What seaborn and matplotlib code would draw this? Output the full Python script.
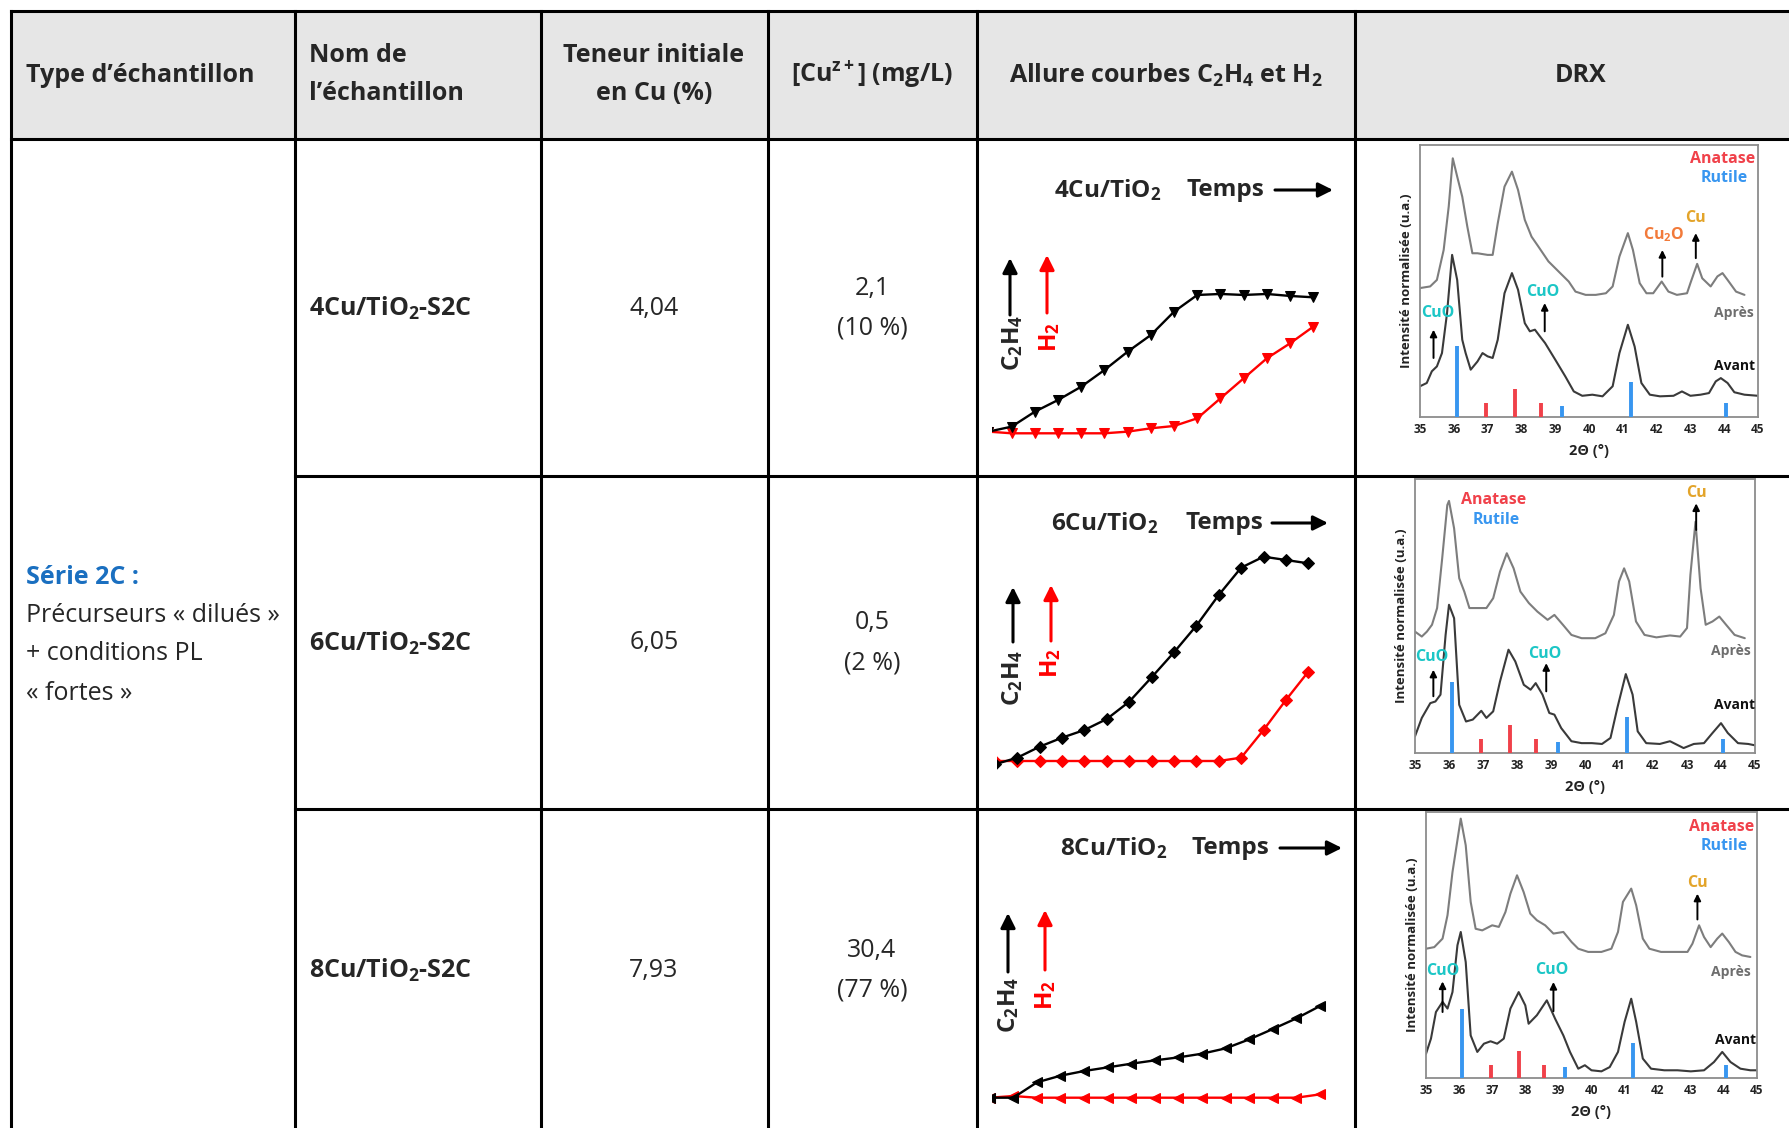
import matplotlib
matplotlib.use('Agg')
import numpy as np
import pandas as pd
import matplotlib.pyplot as plt
import seaborn as sns
from matplotlib.patches import Rectangle

sns.set_theme(style='white')
plt.rcParams['font.family'] = ['Open Sans', 'DejaVu Sans']
plt.rcParams['mathtext.fontset'] = 'custom'
plt.rcParams['mathtext.rm'] = 'Open Sans'
plt.rcParams['mathtext.bf'] = 'Open Sans:bold'
plt.rcParams['mathtext.it'] = 'Open Sans:italic'

# ---------------- table content ----------------
sample_names = ['4Cu/TiO$_\\mathbf{2}$-S2C', '6Cu/TiO$_\\mathbf{2}$-S2C', '8Cu/TiO$_\\mathbf{2}$-S2C']
panel_titles = ['4Cu/TiO$_\\mathbf{2}$', '6Cu/TiO$_\\mathbf{2}$', '8Cu/TiO$_\\mathbf{2}$']
cu_content = ['4,04', '6,05', '7,93']
cu_release = ['2,1', '0,5', '30,4']
cu_release_pct = ['(10 %)', '(2 %)', '(77 %)']

# ---------------- C2H4 / H2 curves (arbitrary units) ----------------
time_idx = list(range(15))
c2h4_4cu = [0.05, 0.2, 0.65, 1.0, 1.4, 1.9, 2.45, 2.95, 3.65, 4.15, 4.18, 4.15, 4.18, 4.12, 4.08]
h2_4cu = [0.05, 0, 0, 0, 0, 0, 0.05, 0.15, 0.22, 0.45, 1.05, 1.65, 2.25, 2.7, 3.2]
c2h4_6cu = [-0.1, 0.1, 0.43, 0.7, 0.93, 1.26, 1.78, 2.51, 3.26, 4.06, 4.98, 5.8, 6.13, 6.03, 5.93]
h2_6cu = [0, 0, 0, 0, 0, 0, 0, 0, 0, 0, 0, 0.1, 0.93, 1.83, 2.68]
c2h4_8cu = [0, 0, 0.46, 0.66, 0.8, 0.91, 1.02, 1.12, 1.21, 1.32, 1.48, 1.75, 2.06, 2.38, 2.75]
h2_8cu = [0, 0.05, 0, 0, 0, 0, 0, 0, 0, 0, 0, 0, 0, 0, 0.1]

# ---------------- XRD patterns (2theta in deg, normalised intensity) ----------------
tt_apres_4cu = [35.0, 35.3, 35.5, 35.7, 35.85, 35.97, 36.1, 36.25, 36.4, 36.55, 36.7, 37.0, 37.15, 37.3, 37.5,
                37.72, 37.9, 38.1, 38.3, 38.5, 38.8, 39.1, 39.4, 39.6, 39.9, 40.2, 40.5, 40.7, 40.9, 41.15,
                41.3, 41.5, 41.7, 41.9, 42.15, 42.35, 42.6, 42.9, 43.0, 43.2, 43.35, 43.6, 43.8, 43.95, 44.1,
                44.35, 44.6]
i_apres_4cu = [47.4, 48.0, 50.4, 61.4, 77.4, 95.1, 88.4, 81.0, 70.0, 60.2, 60.2, 59.6, 59.6, 71.2, 84.7,
               90.2, 83.5, 72.5, 66.3, 62.7, 57.2, 53.5, 49.8, 46.1, 44.9, 44.9, 45.5, 48.0, 59.0, 67.6,
               61.4, 49.2, 45.5, 45.5, 49.8, 46.1, 44.9, 45.5, 49.2, 56.3, 51.0, 48.0, 51.7, 52.9, 50.4,
               46.1, 44.9]
tt_avant_4cu = [35.0, 35.2, 35.35, 35.5, 35.65, 35.8, 35.95, 36.1, 36.25, 36.35, 36.5, 36.7, 36.85, 37.0, 37.15,
                37.3, 37.5, 37.72, 37.9, 38.1, 38.25, 38.4, 38.55, 38.7, 39.0, 39.3, 39.55, 39.8, 40.1, 40.4,
                40.7, 40.9, 41.15, 41.35, 41.55, 41.8, 42.1, 42.5, 42.75, 43.0, 43.3, 43.55, 43.75, 43.9, 44.1,
                44.3, 44.6, 45.0]
i_avant_4cu = [11.3, 12.5, 16.8, 18.6, 23.5, 38.2, 59.6, 50.4, 28.4, 23.5, 17.4, 20.4, 23.5, 22.3, 21.7,
               28.4, 45.5, 52.9, 46.8, 34.5, 31.5, 32.1, 29.6, 27.2, 21.1, 14.9, 9.4, 7.8, 8.2, 7.6,
               11.3, 23.5, 33.9, 25.9, 12.5, 8.2, 7.6, 7.8, 9.4, 7.8, 8.2, 8.8, 13.1, 14.3, 12.5,
               9.1, 8.2, 7.8]

tt_apres_6cu = [35.0, 35.2, 35.35, 35.5, 35.65, 35.8, 35.95, 36.0, 36.15, 36.3, 36.45, 36.6, 36.8, 37.1, 37.3,
                37.5, 37.7, 37.9, 38.1, 38.35, 38.6, 38.9, 39.1, 39.35, 39.6, 39.9, 40.3, 40.6, 40.85, 41.0,
                41.15, 41.3, 41.5, 41.75, 42.1, 42.5, 42.8, 43.0, 43.1, 43.25, 43.4, 43.55, 43.75, 43.95, 44.15,
                44.4, 44.7]
i_apres_6cu = [44.3, 42.5, 44.3, 46.8, 52.9, 71.1, 90.5, 92.0, 82.0, 63.8, 58.9, 52.9, 52.9, 52.9, 56.5,
               66.2, 72.9, 67.4, 58.9, 54.7, 51.6, 48.6, 50.4, 46.8, 43.1, 41.9, 41.9, 43.7, 50.4, 62.6,
               67.4, 62.6, 48.0, 43.1, 42.2, 42.9, 42.5, 45.6, 65.0, 84.4, 60.1, 46.8, 48.0, 49.8, 46.8,
               43.1, 41.9]
tt_avant_6cu = [35.0, 35.2, 35.45, 35.6, 35.75, 35.9, 36.0, 36.15, 36.3, 36.5, 36.7, 36.95, 37.1, 37.3, 37.5,
                37.75, 37.95, 38.2, 38.4, 38.55, 38.75, 38.95, 39.1, 39.3, 39.6, 39.9, 40.2, 40.5, 40.75, 40.95,
                41.2, 41.4, 41.55, 41.8, 42.2, 42.5, 42.9, 43.2, 43.5, 43.75, 44.0, 44.2, 44.5, 44.8, 45.0]
i_avant_6cu = [6.1, 12.8, 18.2, 18.8, 21.3, 43.1, 54.1, 49.2, 17.6, 11.5, 12.2, 15.4, 12.8, 15.2, 26.1,
               37.7, 33.4, 24.9, 23.1, 25.5, 21.3, 14.6, 14.0, 9.1, 4.3, 3.6, 3.6, 3.3, 5.5, 16.4,
               28.8, 21.3, 7.9, 3.6, 3.3, 4.3, 1.8, 3.3, 3.6, 7.3, 10.9, 7.3, 3.6, 3.3, 2.8]

tt_apres_8cu = [35.0, 35.25, 35.5, 35.65, 35.8, 36.05, 36.2, 36.35, 36.5, 36.7, 37.0, 37.2, 37.4, 37.55, 37.75,
                37.95, 38.15, 38.35, 38.6, 38.85, 39.15, 39.4, 39.6, 39.9, 40.3, 40.6, 40.8, 40.95, 41.2, 41.35,
                41.55, 41.75, 42.1, 42.5, 42.9, 43.05, 43.25, 43.4, 43.6, 43.8, 43.95, 44.15, 44.35, 44.55, 44.8]
i_apres_8cu = [48.6, 49.2, 52.4, 61.2, 77.4, 97.5, 87.5, 66.2, 56.1, 55.5, 57.4, 56.8, 62.4, 69.3, 76.2,
               69.9, 61.8, 59.3, 57.4, 54.3, 54.9, 51.1, 48.6, 47.4, 47.4, 48.6, 54.9, 66.2, 71.2, 64.9,
               52.4, 48.6, 47.4, 47.4, 47.4, 50.5, 57.4, 53.0, 49.2, 52.4, 54.3, 51.1, 47.4, 46.1, 45.5]
tt_avant_8cu = [35.0, 35.15, 35.3, 35.5, 35.65, 35.8, 35.95, 36.05, 36.2, 36.35, 36.55, 36.75, 36.95, 37.15, 37.35,
                37.55, 37.8, 38.0, 38.1, 38.35, 38.65, 38.9, 39.15, 39.35, 39.6, 39.8, 40.0, 40.3, 40.55, 40.8,
                41.0, 41.2, 41.35, 41.55, 41.8, 42.2, 42.6, 43.0, 43.4, 43.7, 43.95, 44.2, 44.5, 44.8, 45.0]
i_avant_8cu = [9.1, 14.8, 24.8, 28.6, 26.1, 32.3, 49.9, 54.9, 43.6, 16.0, 9.8, 12.9, 13.8, 12.9, 14.8,
               26.1, 32.3, 27.3, 20.4, 23.6, 29.2, 22.3, 16.0, 9.8, 3.5, 4.8, 2.9, 2.5, 4.1, 9.8,
               21.1, 29.8, 21.1, 7.3, 3.5, 2.9, 2.9, 2.5, 2.9, 6.0, 9.8, 6.0, 3.5, 2.9, 2.9]

anatase_tt = [36.95, 37.8, 38.57]
anatase_int = [5.0, 10.3, 5.0]
rutile_tt = [36.1, 39.2, 41.24, 44.06]
rutile_int = [26.0, 4.0, 13.0, 5.0]

# ---------------- figure ----------------
W, H = 1790, 1128
fig = plt.figure(figsize=(W / 100, H / 100), dpi=100)


def px_axes(x0, y0, x1, y1):
    return fig.add_axes([x0 / W, 1 - y1 / H, (x1 - x0) / W, (y1 - y0) / H])


tab = px_axes(0, 0, W, H)
tab.set_xlim(0, W)
tab.set_ylim(H, 0)
tab.axis('off')

# header background
tab.add_patch(Rectangle((11, 11), W - 11, 128, facecolor='#e6e6e6', edgecolor='none', zorder=0))

LW = 2.2
line_kw = dict(color='black', lw=LW, solid_capstyle='projecting', zorder=2)
tab.plot([11, W], [11, 11], **line_kw)
tab.plot([11, W], [139, 139], **line_kw)
tab.plot([295, W], [476, 476], **line_kw)
tab.plot([295, W], [809, 809], **line_kw)
for xc in [11, 295, 541, 768, 977, 1355]:
    tab.plot([xc, xc], [11, H + 5], **line_kw)

HFS = 18
BFS = 18
# header texts
tab.text(26, 75, 'Type d’échantillon', fontsize=HFS, fontweight='bold', ha='left', va='center')
tab.text(309, 55, 'Nom de', fontsize=HFS, fontweight='bold', ha='left', va='center')
tab.text(309, 94, 'l’échantillon', fontsize=HFS, fontweight='bold', ha='left', va='center')
tab.text(654, 55, 'Teneur initiale', fontsize=HFS, fontweight='bold', ha='center', va='center')
tab.text(654, 94, 'en Cu (%)', fontsize=HFS, fontweight='bold', ha='center', va='center')
tab.text(872, 75, '[Cu$^{\\mathbf{z+}}$] (mg/L)', fontsize=HFS, fontweight='bold', ha='center', va='center')
tab.text(1166, 75, 'Allure courbes C$_\\mathbf{2}$H$_\\mathbf{4}$ et H$_\\mathbf{2}$', fontsize=HFS,
         fontweight='bold', ha='center', va='center')
tab.text(1581, 75, 'DRX', fontsize=HFS, fontweight='bold', ha='center', va='center')

# first column (merged)
tab.text(26, 577, 'Série 2C :', fontsize=BFS, fontweight='bold', color='#1a6fc0', ha='left', va='center')
tab.text(26, 615, 'Précurseurs « dilués »', fontsize=BFS, ha='left', va='center')
tab.text(26, 654, '+ conditions PL', fontsize=BFS, ha='left', va='center')
tab.text(26, 693, '« fortes »', fontsize=BFS, ha='left', va='center')

row_centers = [308, 643, 970]
for k, yc in enumerate(row_centers):
    tab.text(309, yc, sample_names[k], fontsize=BFS, fontweight='bold', ha='left', va='center')
    tab.text(654, yc, cu_content[k], fontsize=BFS, ha='center', va='center')
    tab.text(872, yc - 20, cu_release[k], fontsize=BFS, ha='center', va='center')
    tab.text(872, yc + 20, cu_release_pct[k], fontsize=BFS, ha='center', va='center')


# ---------------- kinetics panels ----------------
def kinetics_panel(xl, xr, yt, yb, x_t1, x_t14, y_zero, c2h4, h2, marker, ms):
    ax = px_axes(xl, yt, xr, yb)
    dt = (x_t14 - x_t1) / 13.0
    x0p = x_t1 - dt
    u = 100 / 3.0
    sns.lineplot(x=time_idx, y=h2, color='#ff0000', marker=marker, markersize=ms,
                 markeredgecolor='#ff0000', markerfacecolor='#ff0000', lw=1.7, ax=ax)
    sns.lineplot(x=time_idx, y=c2h4, color='black', marker=marker, markersize=ms,
                 markeredgecolor='black', markerfacecolor='black', lw=1.7, ax=ax)
    ax.set_xlim((xl - x0p) / dt, (xr - x0p) / dt)
    ax.set_ylim((y_zero - yb) / u, (y_zero - yt) / u)
    ax.axis('off')
    return ax


kinetics_panel(992, 1352, 145, 474, 1011.7, 1313.3, 433.3, c2h4_4cu, h2_4cu, 'v', 7)
kinetics_panel(997, 1352, 478, 806, 1017.3, 1308.3, 761.0, c2h4_6cu, h2_6cu, 'D', 6)
kinetics_panel(992, 1352, 811, 1126, 1013.3, 1320.0, 1097.7, c2h4_8cu, h2_8cu, '<', 7)

TFS = 17.5
arrow_black = dict(arrowstyle='-|>', lw=2.2, color='black', mutation_scale=22, shrinkA=0, shrinkB=0)
arrow_red = dict(arrowstyle='-|>', lw=2.2, color='#ff0000', mutation_scale=22, shrinkA=0, shrinkB=0)
panel_layout = [
    # title x, temps x, arrow x0, x1, y, black arrow x, y0, y1, red arrow x, y0, y1, c2h4 xy, h2 xy
    (1108, 1225, 1275, 1333, 190, 1010, 315, 258, 1047, 313, 255, (1013, 343), (1050, 337)),
    (1105, 1224, 1272, 1328, 523, 1013, 642, 587, 1051, 641, 585, (1013, 678), (1051, 663)),
    (1114, 1230, 1280, 1342, 848, 1008, 972, 913, 1045, 970, 910, (1009, 1005), (1046, 995)),
]
for k, (tx, tpx, ax0, ax1, ty, bx, by0, by1, rx, ry0, ry1, cxy, hxy) in enumerate(panel_layout):
    tab.text(tx, ty, panel_titles[k], fontsize=TFS, fontweight='bold', ha='center', va='center')
    tab.text(tpx, ty, 'Temps', fontsize=TFS, fontweight='bold', ha='center', va='center')
    tab.annotate('', xy=(ax1, ty), xytext=(ax0, ty), arrowprops=arrow_black)
    tab.annotate('', xy=(bx, by1), xytext=(bx, by0), arrowprops=arrow_black)
    tab.annotate('', xy=(rx, ry1), xytext=(rx, ry0), arrowprops=arrow_red)
    tab.text(cxy[0], cxy[1], 'C$_\\mathbf{2}$H$_\\mathbf{4}$', fontsize=TFS, fontweight='bold',
             rotation=90, ha='center', va='center')
    tab.text(hxy[0], hxy[1], 'H$_\\mathbf{2}$', fontsize=TFS, fontweight='bold', color='#ff0000',
             rotation=90, ha='center', va='center')

# ---------------- XRD panels ----------------
C_ANA = '#f0414a'
C_RUT = '#3896f0'
C_CUO = '#1cc6c6'
C_CU2O = '#f27a3a'
C_CU = '#e3a42a'


def xrd_panel(x0, y0, x1, y1, tt_ap, i_ap, tt_av, i_av):
    ax = px_axes(x0, y0, x1, y1)
    df_ap = pd.DataFrame({'tt': tt_ap, 'I': i_ap})
    df_av = pd.DataFrame({'tt': tt_av, 'I': i_av})
    sns.lineplot(data=df_ap, x='tt', y='I', color='#7d7d7d', lw=1.5, ax=ax, sort=False)
    sns.lineplot(data=df_av, x='tt', y='I', color='#3a3a3a', lw=1.5, ax=ax, sort=False)
    ax.vlines(anatase_tt, 0, anatase_int, color=C_ANA, lw=2.8, zorder=3)
    ax.vlines(rutile_tt, 0, rutile_int, color=C_RUT, lw=2.8, zorder=3)
    ax.set_xlim(35, 45)
    ax.set_ylim(0, 100)
    ax.set_xticks(range(35, 46))
    ax.set_xticklabels([str(v) for v in range(35, 46)], fontsize=8.5, fontweight='bold', color='#222222')
    ax.set_yticks([])
    ax.set_facecolor('none')
    for s in ax.spines.values():
        s.set_visible(True)
        s.set_color('#8c8c8c')
        s.set_linewidth(1.3)
    ax.tick_params(axis='x', length=0, pad=4)
    ax.set_xlabel('2Θ (°)', fontsize=10.5, fontweight='bold', labelpad=6, color='#222222')
    ax.set_ylabel('Intensité normalisée (u.a.)', fontsize=9.5, fontweight='bold', labelpad=5, color='#222222')
    return ax


def label(ax, x, y, s, c, fs=11.5):
    ax.text(x, y, s, color=c, fontsize=fs, fontweight='bold', ha='center', va='center')


def up_arrow(ax, x, ya, yb):
    ax.annotate('', xy=(x, yb), xytext=(x, ya),
                arrowprops=dict(arrowstyle='-|>', lw=1.4, color='black', mutation_scale=10,
                                shrinkA=0, shrinkB=0))


# row 1
a1 = xrd_panel(1420, 145, 1758, 417, tt_apres_4cu, i_apres_4cu, tt_avant_4cu, i_avant_4cu)
label(a1, 43.94, 95.0, 'Anatase', C_ANA)
label(a1, 44.0, 87.8, 'Rutile', C_RUT)
label(a1, 42.2, 67.0, 'Cu$_\\mathbf{2}$O', C_CU2O)
up_arrow(a1, 42.17, 51.6, 61.4)
label(a1, 43.16, 73.0, 'Cu', C_CU)
up_arrow(a1, 43.16, 58.4, 67.6)
label(a1, 35.52, 38.2, 'CuO', C_CUO)
up_arrow(a1, 35.4, 21.7, 32.1)
label(a1, 38.64, 46.1, 'CuO', C_CUO)
up_arrow(a1, 38.69, 31.5, 41.9)
label(a1, 44.28, 38.4, 'Après', '#6e6e6e', 10)
label(a1, 44.3, 18.6, 'Avant', '#111111', 10)

# row 2
a2 = xrd_panel(1415, 479, 1755, 753, tt_apres_6cu, i_apres_6cu, tt_avant_6cu, i_avant_6cu)
label(a2, 37.3, 92.3, 'Anatase', C_ANA)
label(a2, 37.4, 85.1, 'Rutile', C_RUT)
label(a2, 43.27, 94.8, 'Cu', C_CU)
up_arrow(a2, 43.27, 81.4, 91.1)
label(a2, 35.5, 35.2, 'CuO', C_CUO)
up_arrow(a2, 35.54, 20.7, 30.4)
label(a2, 38.81, 36.1, 'CuO', C_CUO)
up_arrow(a2, 38.86, 22.5, 32.8)
label(a2, 44.3, 37.1, 'Après', '#6e6e6e', 10)
label(a2, 44.4, 17.4, 'Avant', '#111111', 10)

# row 3
a3 = xrd_panel(1426, 812, 1757, 1078, tt_apres_8cu, i_apres_8cu, tt_avant_8cu, i_avant_8cu)
label(a3, 43.94, 94.4, 'Anatase', C_ANA)
label(a3, 44.0, 87.2, 'Rutile', C_RUT)
label(a3, 43.2, 73.4, 'Cu', C_CU)
up_arrow(a3, 43.2, 59.6, 69.3)
label(a3, 35.5, 40.1, 'CuO', C_CUO)
up_arrow(a3, 35.5, 24.8, 36.3)
label(a3, 38.8, 40.5, 'CuO', C_CUO)
up_arrow(a3, 38.85, 25.1, 36.1)
label(a3, 44.2, 39.8, 'Après', '#6e6e6e', 10)
label(a3, 44.35, 14.4, 'Avant', '#111111', 10)

fig.savefig('out.png', dpi=100)
